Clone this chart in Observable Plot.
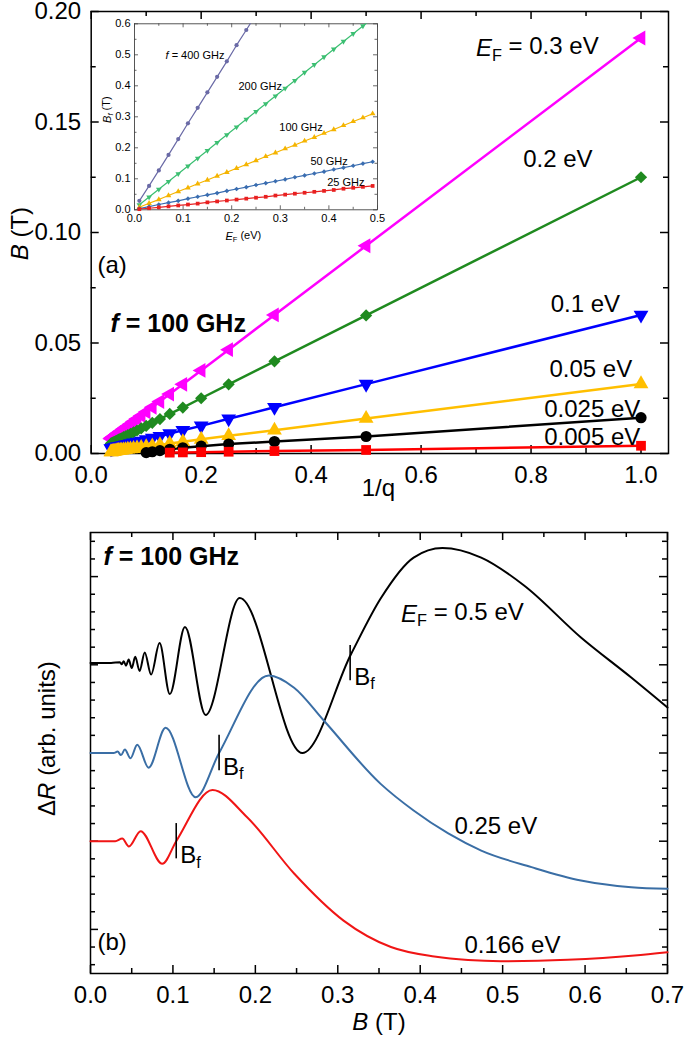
<!DOCTYPE html>
<html><head><meta charset="utf-8">
<script src="https://cdn.jsdelivr.net/npm/d3@7"></script>
<script src="https://cdn.jsdelivr.net/npm/@observablehq/plot@0.6"></script>
<style>
body{margin:0;background:#fff;}
#wrap{position:relative;width:685px;height:1043px;overflow:hidden;background:#fff;}
#wrap svg{position:absolute;left:0;}
</style></head><body><div id="wrap"></div>
<script>
// ================= DATA =================
// Panel (a): B vs 1/q at f = 100 GHz
const qIndex = [1,2,3,4,5,6,7,8,9,10,11,12,13,14,15,16,17,18,19,20,21,22,23,24,25,26,27,28];
const ef030 = [0.188,0.094,0.0627,0.047,0.0376,0.0313,0.0269,0.0235,0.0209,0.0188,0.0171,0.0157,0.0145,0.0134,0.0125,0.0118,0.0111,0.0104,0.0099,0.0094,0.0090,0.0085,0.0082,0.0078,0.0075,0.0072,0.0070,0.0067];
const ef020 = [0.125,0.0625,0.0417,0.0313,0.025,0.0208,0.0179,0.0156,0.0139,0.0125,0.0114,0.0104,0.0096,0.0089,0.0083,0.0078,0.0074,0.0069,0.0066,0.0063,0.0060,0.0057,0.0054,0.0052,0.0050,0.0048,0.0046,0.0045];
const ef010 = [0.0627,0.0314,0.0209,0.0157,0.0125,0.0105,0.0090,0.0078,0.0070,0.0063,0.0057,0.0052,0.0048,0.0045,0.0042,0.0039,0.0037,0.0035,0.0033,0.0031,0.0030,0.0029,0.0027,0.0026,0.0025,0.0024,0.0023,0.0022];
const ef005 = [0.0315,0.0158,0.0105,0.0080,0.0064,0.0053,0.0045,0.0039,0.0034,0.0030,0.0027,0.0025,0.0022,0.0020,0.0019,0.0017,0.0016,0.0015,0.0014,0.0013,0.0012,0.0011,0.0010,0.0009,0.0009,0.0008,0.0007,0.0007];
const ef0025 = [0.0162,0.0077,0.0054,0.0043,0.0033,0.0026,0.0019,0.0013,0.0008,0.0004];
const ef0005 = [0.0035,0.0016,0.0011,0.0008,0.0006,0.0005,0.0004];
const xTicksA = [0, 0.2, 0.4, 0.6, 0.8, 1.0];
const xMinorA = [0.1, 0.3, 0.5, 0.7, 0.9];
const yTicksA = [0, 0.05, 0.10, 0.15, 0.20];
const yMinorA = [0.025, 0.075, 0.125, 0.175];

// Inset: B_f vs E_F for several frequencies
const insetEF = [0.01,0.03,0.05,0.07,0.09,0.11,0.13,0.15,0.17,0.19,0.21,0.23,0.25,0.27,0.29,0.31,0.33,0.35,0.37,0.39,0.41,0.43,0.45,0.47,0.49];
const bf400 = [0.029,0.077,0.127,0.177,0.228,0.279,0.329,0.379,0.429,0.479,0.531,0.580,0.630];
const bf200 = [0.016,0.041,0.066,0.091,0.116,0.141,0.166,0.191,0.217,0.242,0.267,0.292,0.317,0.342,0.367,0.392,0.417,0.443,0.468,0.493,0.518,0.543,0.568,0.593,0.618];
const bf100 = [0.008,0.021,0.033,0.046,0.059,0.071,0.084,0.096,0.109,0.121,0.134,0.146,0.159,0.172,0.184,0.197,0.209,0.222,0.234,0.247,0.259,0.272,0.285,0.297,0.310];
const bf50 = [0.004,0.010,0.017,0.023,0.029,0.036,0.042,0.048,0.054,0.061,0.067,0.073,0.080,0.086,0.092,0.098,0.105,0.111,0.117,0.123,0.130,0.136,0.142,0.149,0.155];
const bf25 = [0.002,0.005,0.008,0.011,0.014,0.017,0.020,0.024,0.027,0.030,0.033,0.036,0.039,0.042,0.046,0.049,0.052,0.055,0.058,0.061,0.064,0.068,0.071,0.074,0.077];
const xTicksIn = [0, 0.1, 0.2, 0.3, 0.4, 0.5];
const xMinorIn = [0.05, 0.15, 0.25, 0.35, 0.45];
const yTicksIn = [0, 0.1, 0.2, 0.3, 0.4, 0.5, 0.6];
const yMinorIn = [0.05, 0.15, 0.25, 0.35, 0.45, 0.55];

// Panel (b): ΔR (arb. units, offset) vs B
const blackB = [0,0.025,0.0357,0.0379,0.0403,0.0431,0.0463,0.05,0.0543,0.0595,0.0658,0.0735,0.0838,0.0962,0.1146,0.1397,0.181,0.257,0.316,0.352,0.392,0.427,0.474,0.526,0.595,0.656,0.700];
const blackR = [15.1,15.1,15.15,15.03,15.2,14.95,15.3,14.82,15.45,14.65,15.7,14.45,16.23,13.34,17.14,12.15,18.78,10.0,15.6,18.76,21.08,21.62,21.08,19.5,16.55,14.28,12.58];
const blueB = [0,0.028,0.0329,0.037,0.0417,0.0485,0.0567,0.0705,0.0911,0.1276,0.156,0.2163,0.247,0.283,0.352,0.392,0.434,0.474,0.535,0.595,0.656,0.700];
const blueR = [10.0,10.0,10.08,9.88,10.2,9.7,10.47,9.17,11.43,7.49,10.0,14.39,13.7,11.84,8.25,6.74,5.44,4.47,3.53,2.77,2.39,2.3];
const redB = [0,0.030,0.0385,0.0466,0.0608,0.0871,0.104,0.148,0.19,0.247,0.307,0.3645,0.417,0.458,0.498,0.579,0.66,0.70];
const redR = [5.0,5.0,5.15,4.7,5.57,3.72,5.0,7.9,6.36,3.17,0.5,-1.0,-1.54,-1.74,-1.8,-1.72,-1.48,-1.29];
const bfField = [0.315, 0.156, 0.104];
const xTicksB = [0, 0.1, 0.2, 0.3, 0.4, 0.5, 0.6, 0.7];
const xMinorB = [0.05, 0.15, 0.25, 0.35, 0.45, 0.55, 0.65];
const yTicksB = [0, 5, 10, 15, 20];
const yMinorB = [-2,-1,1,2,3,4,6,7,8,9,11,12,13,14,16,17,18,19,21,22];

// ================= HELPERS =================
const FONT = "'Liberation Sans', Arial, Helvetica, sans-serif";
const wrap = document.getElementById("wrap");

function tickMarks(o) {
  const {xd, yd, kx, ky, xMaj, xMin, yMaj, yMin, maj, min, stroke = "black", sw = 1.5} = o;
  const m = [];
  const addX = (vals, len) => {
    m.push(Plot.ruleX(vals, {x: d => d, y1: yd[0], y2: yd[0] + len * ky, stroke, strokeWidth: sw}));
    m.push(Plot.ruleX(vals, {x: d => d, y1: yd[1], y2: yd[1] - len * ky, stroke, strokeWidth: sw}));
  };
  const addY = (vals, len) => {
    m.push(Plot.ruleY(vals, {y: d => d, x1: xd[0], x2: xd[0] + len * kx, stroke, strokeWidth: sw}));
    m.push(Plot.ruleY(vals, {y: d => d, x1: xd[1], x2: xd[1] - len * kx, stroke, strokeWidth: sw}));
  };
  addX(xMaj, maj); addX(xMin, min); addY(yMaj, maj); addY(yMin, min);
  return m;
}

function enrich(svg, map) {
  svg.querySelectorAll("text").forEach(t => {
    const k = t.textContent;
    if (map[k] !== undefined) t.innerHTML = map[k];
  });
}

const sqrt3 = Math.sqrt(3);
const triLeft = {draw(ctx, size) {
  const a = Math.sqrt(size / (sqrt3 * 3));
  ctx.moveTo(-2 * a, 0); ctx.lineTo(a, -sqrt3 * a); ctx.lineTo(a, sqrt3 * a); ctx.closePath();
}};
const triDown = {draw(ctx, size) {
  const a = Math.sqrt(size / (sqrt3 * 3));
  ctx.moveTo(0, 2 * a); ctx.lineTo(-sqrt3 * a, -a); ctx.lineTo(sqrt3 * a, -a); ctx.closePath();
}};

const SUB = (s) => `<tspan font-size="0.68em" dy="0.28em">${s}</tspan>`;
const UNSUB = (s) => `<tspan dy="-0.28em">${s}</tspan>`;
const richMap = {
  "E_F = 0.3 eV": `<tspan font-style="italic">E</tspan>${SUB("F")}${UNSUB(" = 0.3 eV")}`,
  "E_F = 0.5 eV": `<tspan font-style="italic">E</tspan>${SUB("F")}${UNSUB(" = 0.5 eV")}`,
  "f = 100 GHz": `<tspan font-style="italic">f</tspan> = 100 GHz`,
  "f = 400 GHz": `<tspan font-style="italic">f</tspan> = 400 GHz`,
  "B (T)": `<tspan font-style="italic">B</tspan> (T)`,
  "ΔR (arb. units)": `Δ<tspan font-style="italic">R</tspan> (arb. units)`,
  "B_f": `B${SUB("f")}`,
  "B_f (T)": `<tspan font-style="italic">B</tspan><tspan font-size="0.68em" dy="0.28em" font-style="italic">f</tspan>${UNSUB(" (T)")}`,
  "E_F (eV)": `<tspan font-style="italic">E</tspan>${SUB("F")}${UNSUB(" (eV)")}`
};

// ================= PANEL (a) =================
{
  const W = 685, H = 500, mL = 90.7, mR = 17, mT = 11, mB = 47;
  const xd = [0, 1.05], yd = [0, 0.2];
  const kx = (xd[1] - xd[0]) / (W - mL - mR), ky = (yd[1] - yd[0]) / (H - mT - mB);
  const series = [
    {vals: ef030, color: "#ff00ff", symbol: triLeft},
    {vals: ef020, color: "#1f8a1f", symbol: "diamond2"},
    {vals: ef010, color: "#0000ff", symbol: triDown},
    {vals: ef005, color: "#ffbf00", symbol: "triangle"},
    {vals: ef0025, color: "#000000", symbol: "circle"},
    {vals: ef0005, color: "#ff0000", symbol: "square"}
  ];
  const marks = [];
  marks.push(Plot.axisX({ticks: xTicksA, tickSize: 0, tickPadding: 12, tickFormat: d3.format(".1f"), label: null}));
  marks.push(Plot.axisY({ticks: yTicksA, tickSize: 0, tickPadding: 10, tickFormat: d3.format(".2f"), label: null}));
  marks.push(...tickMarks({xd, yd, kx, ky, xMaj: xTicksA, xMin: xMinorA, yMaj: yTicksA, yMin: yMinorA, maj: 8, min: 5}));
  marks.push(Plot.frame({stroke: "black", strokeWidth: 1.5}));
  for (const s of series) {
    const rows = s.vals.map((v, i) => ({x: 1 / qIndex[i], y: v}));
    marks.push(Plot.line(rows, {x: "x", y: "y", stroke: s.color, strokeWidth: 2.5}));
  }
  for (const s of series) {
    const rows = s.vals.map((v, i) => ({x: 1 / qIndex[i], y: v}));
    marks.push(Plot.dot(rows, {x: "x", y: "y", fill: s.color, stroke: "none", symbol: s.symbol, r: s.symbol === "circle" ? 5.6 : 5.5}));
  }
  const labelsEnd = [
    {t: "E_F = 0.3 eV", x: 0.923, y: 0.1833},
    {t: "0.2 eV", x: 0.912, y: 0.1333},
    {t: "0.1 eV", x: 0.962, y: 0.0673},
    {t: "0.05 eV", x: 0.984, y: 0.0381},
    {t: "0.025 eV", x: 0.9987, y: 0.0200},
    {t: "0.005 eV", x: 0.9987, y: 0.0074}
  ];
  marks.push(Plot.text(labelsEnd, {x: "x", y: "y", text: "t", textAnchor: "end", fontSize: 24, fill: "black"}));
  marks.push(Plot.text(["(a)"], {x: 0.0115, y: 0.0850, text: d => d, textAnchor: "start", fontSize: 24, fill: "black"}));
  marks.push(Plot.text(["1/q"], {x: 0.5224, y: -0.0158, text: d => d, textAnchor: "middle", fontSize: 24, fill: "black"}));
  marks.push(Plot.text(["f = 100 GHz"], {x: 0.035, y: 0.0588, text: d => d, textAnchor: "start", fontSize: 25, fontWeight: "bold", fill: "black"}));
  marks.push(Plot.text(["B (T)"], {x: -0.1285, y: 0.0995, text: d => d, rotate: -90, fontSize: 24, fill: "black"}));
  const svg = Plot.plot({
    width: W, height: H, marginLeft: mL, marginRight: mR, marginTop: mT, marginBottom: mB,
    x: {domain: xd}, y: {domain: yd},
    style: {fontFamily: FONT, fontSize: "24px", color: "black", background: "transparent", overflow: "visible"},
    marks
  });
  svg.style.top = "0px";
  enrich(svg, richMap);
  wrap.appendChild(svg);
}

// ================= INSET =================
{
  const W = 400, H = 250, mL = 134, mR = 23, mT = 23.3, mB = 40.7;
  const xd = [0, 0.5], yd = [0, 0.6];
  const kx = (xd[1] - xd[0]) / (W - mL - mR), ky = (yd[1] - yd[0]) / (H - mT - mB);
  const series = [
    {vals: bf400, color: "#6a6aa6", symbol: "circle"},
    {vals: bf200, color: "#3cbf72", symbol: triDown},
    {vals: bf100, color: "#f5b400", symbol: "triangle"},
    {vals: bf50, color: "#3a6db0", symbol: "diamond2"},
    {vals: bf25, color: "#e82020", symbol: "square"}
  ];
  const marks = [];
  marks.push(Plot.axisX({ticks: xTicksIn, tickSize: 0, tickPadding: 4, tickFormat: d3.format(".1f"), label: null, fontSize: 11}));
  marks.push(Plot.axisY({ticks: yTicksIn, tickSize: 0, tickPadding: 4, tickFormat: d3.format(".1f"), label: null, fontSize: 11}));
  marks.push(...tickMarks({xd, yd, kx, ky, xMaj: xTicksIn, xMin: xMinorIn, yMaj: yTicksIn, yMin: yMinorIn, maj: 4, min: 2.5, stroke: "#444", sw: 0.8}));
  marks.push(Plot.frame({stroke: "#444", strokeWidth: 0.9}));
  for (const s of series) {
    const rows = s.vals.map((v, i) => ({x: insetEF[i], y: v}));
    marks.push(Plot.line(rows, {x: "x", y: "y", stroke: s.color, strokeWidth: 1.2, clip: true}));
    marks.push(Plot.dot(rows.filter(d => d.y <= yd[1]), {x: "x", y: "y", fill: s.color, stroke: "none", symbol: s.symbol, r: 2.1}));
  }
  const labelsIn = [
    {t: "f = 400 GHz", x: 0.0638, y: 0.499},
    {t: "200 GHz", x: 0.214, y: 0.398},
    {t: "100 GHz", x: 0.298, y: 0.264},
    {t: "50 GHz", x: 0.362, y: 0.157},
    {t: "25 GHz", x: 0.3965, y: 0.0897}
  ];
  marks.push(Plot.text(labelsIn, {x: "x", y: "y", text: "t", textAnchor: "start", fontSize: 11, fill: "black"}));
  marks.push(Plot.text(["B_f (T)"], {x: -0.056, y: 0.323, text: d => d, rotate: -90, fontSize: 11, fill: "black"}));
  marks.push(Plot.text(["E_F (eV)"], {x: 0.224, y: -0.085, text: d => d, fontSize: 11, fill: "black"}));
  const svg = Plot.plot({
    width: W, height: H, marginLeft: mL, marginRight: mR, marginTop: mT, marginBottom: mB,
    x: {domain: xd}, y: {domain: yd},
    style: {fontFamily: FONT, fontSize: "11px", color: "black", background: "transparent", overflow: "visible"},
    marks
  });
  svg.style.top = "0px";
  enrich(svg, richMap);
  wrap.appendChild(svg);
}

// ================= PANEL (b) =================
{
  const W = 685, H = 543, mL = 90, mR = 18, mT = 32, mB = 70;
  const xd = [0, 0.7], yd = [-2.5, 22.5];
  const kx = (xd[1] - xd[0]) / (W - mL - mR), ky = (yd[1] - yd[0]) / (H - mT - mB);
  const curves = [
    {B: blackB, R: blackR, color: "#000000", bf: bfField[0]},
    {B: blueB, R: blueR, color: "#3a6ea5", bf: bfField[1]},
    {B: redB, R: redR, color: "#f01515", bf: bfField[2]}
  ];
  const marks = [];
  marks.push(Plot.axisX({ticks: xTicksB, tickSize: 0, tickPadding: 12, tickFormat: d3.format(".1f"), label: null}));
  marks.push(...tickMarks({xd, yd, kx, ky, xMaj: xTicksB, xMin: xMinorB, yMaj: yTicksB, yMin: yMinorB, maj: 8, min: 5}));
  marks.push(Plot.frame({stroke: "black", strokeWidth: 1.5}));
  for (const c of curves) {
    const rows = c.B.map((b, i) => ({x: b, y: c.R[i]}));
    marks.push(Plot.line(rows, {x: "x", y: "y", stroke: c.color, strokeWidth: 2, curve: "monotone-x"}));
  }
  const bfRows = curves.map(c => ({x: c.bf, base: c.R[0]}));
  marks.push(Plot.ruleX(bfRows, {x: "x", y1: d => d.base - 1, y2: d => d.base + 1, stroke: "black", strokeWidth: 1.6}));
  marks.push(Plot.text(bfRows, {x: "x", y: d => d.base - 0.8, text: () => "B_f", dx: 4, textAnchor: "start", fontSize: 24, fill: "black"}));
  const labelsB = [
    {t: "E_F = 0.5 eV", x: 0.3767, y: 17.88},
    {t: "0.25 eV", x: 0.4415, y: 5.82},
    {t: "0.166 eV", x: 0.4536, y: -0.91},
    {t: "(b)", x: 0.0085, y: -0.74}
  ];
  marks.push(Plot.text(labelsB, {x: "x", y: "y", text: "t", textAnchor: "start", fontSize: 24, fill: "black"}));
  marks.push(Plot.text(["f = 100 GHz"], {x: 0.0158, y: 21.11, text: d => d, textAnchor: "start", fontSize: 25, fontWeight: "bold", fill: "black"}));
  marks.push(Plot.text(["B (T)"], {x: 0.35, y: -5.28, text: d => d, fontSize: 24, fill: "black"}));
  marks.push(Plot.text(["ΔR (arb. units)"], {x: -0.0522, y: 10.82, text: d => d, rotate: -90, fontSize: 24, fill: "black"}));
  const svg = Plot.plot({
    width: W, height: H, marginLeft: mL, marginRight: mR, marginTop: mT, marginBottom: mB,
    x: {domain: xd}, y: {domain: yd, axis: null},
    style: {fontFamily: FONT, fontSize: "24px", color: "black", background: "transparent", overflow: "visible"},
    marks
  });
  svg.style.top = "500px";
  enrich(svg, richMap);
  wrap.appendChild(svg);
}
</script></body></html>
